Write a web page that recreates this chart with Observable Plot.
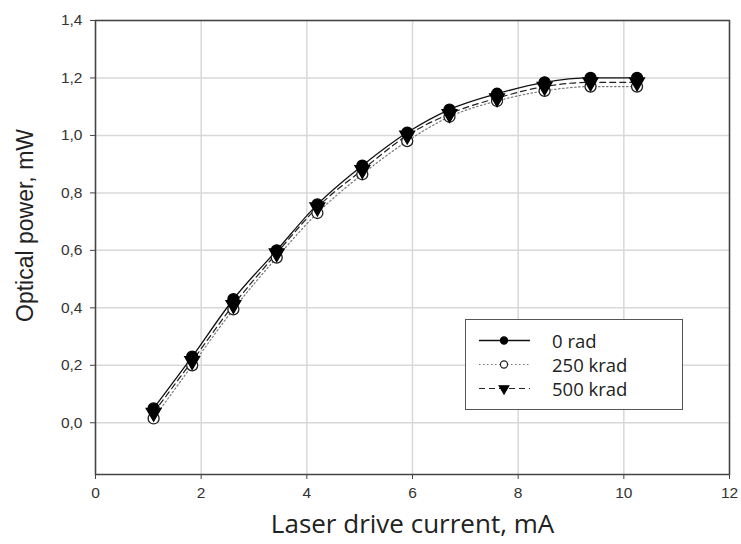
<!DOCTYPE html>
<html>
<head>
<meta charset="utf-8">
<script src="https://cdn.jsdelivr.net/npm/d3@7"></script>
<script src="https://cdn.jsdelivr.net/npm/@observablehq/plot@0.6"></script>
<style>
  body { margin: 0; background: #fff; }
  #wrap { position: relative; width: 741px; height: 544px; }
  #legend { position: absolute; left: 465px; top: 319px; width: 218px; height: 91px;
    border: 1.5px solid #555; background: #fff; box-sizing: border-box;
    font-family: "Open Sans", sans-serif; font-size: 18.5px; color: #222; }
  .row { position: absolute; left: 0; height: 23px; display: flex; align-items: center; }
  .row span { position: absolute; left: 86px; white-space: nowrap; line-height: 23px; }
</style>
</head>
<body>
<div id="wrap"><div id="chart"></div><div id="legend"></div></div>
<script>
const current = [1.1, 1.83, 2.61, 3.43, 4.2, 5.05, 5.9, 6.7, 7.6, 8.5, 9.37, 10.25];
const rad0    = [0.05, 0.23, 0.43, 0.60, 0.76, 0.895, 1.01, 1.09, 1.145, 1.185, 1.20, 1.20];
const krad250 = [0.015, 0.20, 0.395, 0.575, 0.73, 0.865, 0.98, 1.065, 1.12, 1.155, 1.17, 1.17];
const krad500 = [0.035, 0.215, 0.41, 0.59, 0.75, 0.88, 1.00, 1.075, 1.13, 1.17, 1.185, 1.185];
const seriesNames = ["0 rad", "250 krad", "500 krad"];
const xTicks = [0, 2, 4, 6, 8, 10, 12];
const yTicks = [0, 0.2, 0.4, 0.6, 0.8, 1.0, 1.2, 1.4];

const styles = {
  "0 rad":    {stroke: "#111", dash: null, width: 1.3, symbol: "circle", fill: "#000", dstroke: "#000", rotate: 0},
  "250 krad": {stroke: "#777", dash: "1.5,2.5", width: 1.2, symbol: "circle", fill: "#fff", dstroke: "#222", rotate: 0},
  "500 krad": {stroke: "#222", dash: "6,4", width: 1.2, symbol: "triangle", fill: "#000", dstroke: "#000", rotate: 180}
};
const valuesBy = {"0 rad": rad0, "250 krad": krad250, "500 krad": krad500};
const data = seriesNames.flatMap(s => current.map((x, i) => ({series: s, x, y: valuesBy[s][i]})));
const fmt = d => d3.format(".1f")(d).replace(".", ",");
const tickFont = "Liberation Sans, Arial, sans-serif";

const marks = [
  Plot.gridX(xTicks, {stroke: "#d8d8d8", strokeOpacity: 1, strokeWidth: 1.5}),
  Plot.gridY(yTicks, {stroke: "#d8d8d8", strokeOpacity: 1, strokeWidth: 1.5}),
  Plot.axisX(xTicks, {tickSize: 5, stroke: "#444", tickFormat: () => "", label: null}),
  Plot.axisY(yTicks, {tickSize: 5, stroke: "#444", tickFormat: () => "", label: null}),
  Plot.text(xTicks, {x: d => d, text: d => String(d), frameAnchor: "bottom", dy: 23, fontSize: 15.5, fontFamily: tickFont, fill: "#333"}),
  Plot.text(yTicks, {y: d => d, text: fmt, frameAnchor: "left", textAnchor: "end", dx: -13, fontSize: 15.5, fontFamily: tickFont, fill: "#333"}),
  Plot.frame({stroke: "#444", strokeWidth: 1.5})
];
for (const s of ["250 krad", "500 krad", "0 rad"]) {
  const st = styles[s];
  const d = data.filter(r => r.series === s);
  marks.push(Plot.line(d, {x: "x", y: "y", curve: "monotone-x", stroke: st.stroke, strokeWidth: st.width, strokeDasharray: st.dash}));
}
for (const s of ["250 krad", "500 krad", "0 rad"]) {
  const st = styles[s];
  const d = data.filter(r => r.series === s);
  marks.push(Plot.dot(d, {x: "x", y: "y", symbol: () => st.symbol, r: 5.5, fill: st.fill, stroke: st.dstroke, strokeWidth: 1.3, rotate: st.rotate}));
}
marks.push(Plot.text(["Laser drive current, mA"], {frameAnchor: "bottom", dy: 58, fontSize: 26, fontFamily: "Open Sans", fill: "#222"}));
marks.push(Plot.text(["Optical power, mW"], {frameAnchor: "left", textAnchor: "middle", dx: -70, dy: -22, rotate: -90, fontSize: 23, fontFamily: "Liberation Sans, Arial, sans-serif", fill: "#222"}));

const chart = Plot.plot({
  width: 741, height: 544,
  marginLeft: 95, marginRight: 12, marginTop: 20, marginBottom: 70,
  style: {fontFamily: "Liberation Sans, Arial, sans-serif", background: "#fff"},
  x: {domain: [0, 12]},
  y: {domain: [-0.18, 1.4]},
  symbol: {type: "identity"},
  marks
});
document.getElementById("chart").appendChild(chart);

// legend
const legend = document.getElementById("legend");
const rowsTop = [9, 33, 57];
seriesNames.forEach((s, i) => {
  const st = styles[s];
  const row = document.createElement("div");
  row.className = "row";
  row.style.top = rowsTop[i] + "px";
  const sym = d3.symbol(st.symbol === "triangle" ? d3.symbolTriangle : d3.symbolCircle, 40)();
  row.innerHTML = `<svg width="80" height="23"><line x1="13" x2="64" y1="11.5" y2="11.5" stroke="${st.stroke}" stroke-width="${st.width}" ${st.dash ? `stroke-dasharray="${st.dash}"` : ""}/>` +
    `<path d="${sym}" transform="translate(38,11.5) rotate(${st.rotate})" fill="${st.fill}" stroke="${st.dstroke}" stroke-width="1.2"/></svg><span>${s}</span>`;
  legend.appendChild(row);
});
</script>
</body>
</html>
